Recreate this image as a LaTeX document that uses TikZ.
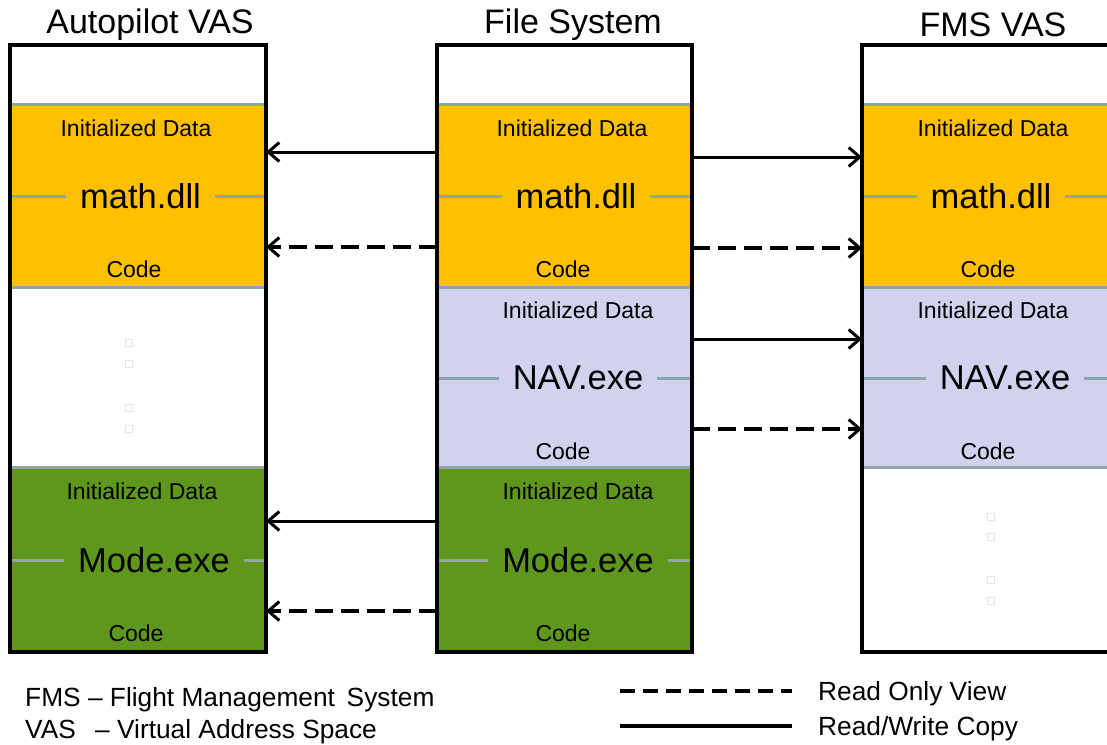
\documentclass[tikz,border=0pt]{standalone}
\usepackage{fontspec}
\setmainfont{Liberation Sans}
\usetikzlibrary{arrows.meta}
\definecolor{orng}{HTML}{FFC000}
\definecolor{lav}{HTML}{D0D2EE}
\definecolor{grn}{HTML}{5F961D}
\definecolor{sep}{HTML}{8FA5A6}
\definecolor{faint}{HTML}{E6E6E6}
\tikzset{
  blk/.style={rectangle, inner sep=0pt, outer sep=0pt, draw=none, anchor=north west, minimum width=#1},
  sepline/.style={draw=sep, line width=3pt},
  frame/.style={draw=black, line width=3.5pt},
  title/.style={font=\fontsize{34}{40}\selectfont, inner sep=0pt},
  small/.style={font=\fontsize{23}{27}\selectfont, inner sep=0pt},
  big/.style={font=\fontsize{34.5}{40}\selectfont, inner sep=0pt, inner xsep=14pt, minimum height=30pt},
  leg/.style={font=\fontsize{26.3}{30}\selectfont, inner sep=0pt, anchor=west},
  rw/.style={draw=black, line width=3pt, -{Straight Barb[length=11pt,width=19pt,line width=3pt]}},
  ro/.style={draw=black, line width=3.5pt, dash pattern=on 18pt off 8pt, -{Straight Barb[length=11pt,width=19pt,line width=3pt]}},
  dot/.style={draw=faint, line width=0.6pt, minimum size=7pt, inner sep=0pt}
}
\begin{document}
\begin{tikzpicture}[x=1pt,y=-1pt]
\clip (0,0) rectangle (1107,744);
\fill[white] (0,0) rectangle (1107,744);

% ---------- titles
\node[title] (tL) at (150,25) {Autopilot VAS};
\node[title] (tM) at (573,25) {File System};
\node[title] (tR) at (993,25) {FMS VAS};

% ---------- blocks: left column
\node[blk=256pt, minimum height=183pt, fill=orng] (Lmath) at (10,104) {};
\node[blk=256pt, minimum height=180pt, fill=white] (Lgap) at (10,287) {};
\node[blk=256pt, minimum height=185pt, fill=grn] (Lmode) at (10,467) {};
% middle column
\node[blk=255pt, minimum height=183pt, fill=orng] (Mmath) at (437,104) {};
\node[blk=255pt, minimum height=180pt, fill=lav] (Mnav) at (437,287) {};
\node[blk=255pt, minimum height=185pt, fill=grn] (Mmode) at (437,467) {};
% right column
\node[blk=256pt, minimum height=183pt, fill=orng] (Rmath) at (862,104) {};
\node[blk=256pt, minimum height=180pt, fill=lav] (Rnav) at (862,287) {};
\node[blk=256pt, minimum height=185pt, fill=white] (Rgap) at (862,467) {};

% ---------- separators and mid lines
\foreach \xa/\xb in {10/266, 437/692, 862/1118}{
  \draw[sepline] (\xa,104) -- (\xb,104);
  \draw[sepline] (\xa,287) -- (\xb,287);
  \draw[sepline] (\xa,467) -- (\xb,467);
}
\draw[sepline] (10,196) -- (266,196);
\draw[sepline] (10,560) -- (266,560);
\draw[sepline] (437,196) -- (692,196);
\draw[sepline] (437,378) -- (692,378);
\draw[sepline] (437,560) -- (692,560);
\draw[sepline] (862,196) -- (1118,196);
\draw[sepline] (862,378) -- (1118,378);

% ---------- texts left
\node[small] (l1) at (136,128) {Initialized Data};
\node[big, fill=orng] (l2) at (140.5,196) {math.dll};
\node[small] (l3) at (134,269) {Code};
\node[small] (l4) at (142,491) {Initialized Data};
\node[big, fill=grn] (l5) at (154,560) {Mode.exe};
\node[small] (l6) at (136,633) {Code};
% texts middle
\node[small] (m1) at (572,128) {Initialized Data};
\node[big, fill=orng] (m2) at (576,196) {math.dll};
\node[small] (m3) at (563,269) {Code};
\node[small] (m4) at (578,310) {Initialized Data};
\node[big, fill=lav] (m5) at (578,378) {NAV.exe};
\node[small] (m6) at (563,451) {Code};
\node[small] (m7) at (578,491) {Initialized Data};
\node[big, fill=grn] (m8) at (578,560) {Mode.exe};
\node[small] (m9) at (563,633) {Code};
% texts right
\node[small] (r1) at (993,128) {Initialized Data};
\node[big, fill=orng] (r2) at (991,196) {math.dll};
\node[small] (r3) at (988,269) {Code};
\node[small] (r4) at (993,310) {Initialized Data};
\node[big, fill=lav] (r5) at (1005,378) {NAV.exe};
\node[small] (r6) at (988,451) {Code};

% ---------- faint placeholder squares
\foreach \yy [count=\i] in {343,364,408,429}{\node[dot] (ld\i) at (129,\yy) {};}
\foreach \yy [count=\i] in {517,537,580,601}{\node[dot] (rd\i) at (991,\yy) {};}

% ---------- frames
\draw[frame] (10,45) rectangle (266,652);
\draw[frame] (437,45) rectangle (692,652);
\draw[frame] (862,45) rectangle (1120,652);

% ---------- arrows
\draw[rw] (Mmath.west |- 0,152) -- (Lmath.east |- 0,152);
\draw[ro] (Mmath.west |- 0,247) -- (Lmath.east |- 0,247);
\draw[rw] (Mmode.west |- 0,521) -- (Lmode.east |- 0,521);
\draw[ro] (Mmode.west |- 0,611) -- (Lmode.east |- 0,611);
\draw[rw] (Mmath.east |- 0,157) -- (Rmath.west |- 0,157);
\draw[ro] (Mmath.east |- 0,248) -- (Rmath.west |- 0,248);
\draw[rw] (Mnav.east |- 0,339) -- (Rnav.west |- 0,339);
\draw[ro] (Mnav.east |- 0,429) -- (Rnav.west |- 0,429);

% ---------- legend
\node[leg] (k1) at (25,700) {FMS -- Flight Management \,System};
\node[leg] (k2) at (25,732) {\makebox[70pt][l]{VAS}-- Virtual Address Space};
\coordinate (d1) at (620,691);
\coordinate (d2) at (792,691);
\coordinate (s1) at (620,726);
\coordinate (s2) at (792,726);
\draw[draw=black, line width=3.5pt, dash pattern=on 15pt off 8pt] (d1) -- (d2);
\draw[draw=black, line width=3.5pt] (s1) -- (s2);
\node[leg] (k3) at (818,694) {Read Only View};
\node[leg] (k4) at (818,729) {Read/Write Copy};
\end{tikzpicture}
\end{document}
